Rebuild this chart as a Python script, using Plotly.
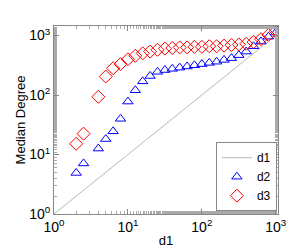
import plotly.graph_objects as go

# data
d1_line = [1, 1000]
k_d2 = [3, 4, 6, 7, 8, 9, 10, 11, 12, 13, 14, 15, 16, 17, 18, 19, 20, 21, 22, 23, 24, 25, 26, 27, 28, 29, 30]
d2_logy = [0.69, 0.85, 1.10, 1.26, 1.39, 1.60, 1.89, 2.08, 2.23, 2.32, 2.39, 2.42, 2.44, 2.46, 2.48, 2.50,
           2.52, 2.54, 2.56, 2.59, 2.62, 2.67, 2.73, 2.82, 2.90, 2.98, 3.05]
k_d3 = [3, 4, 6, 7, 8, 9, 10, 11, 12, 13, 14, 15, 16, 17, 18, 19, 20, 21, 22, 23, 24, 25, 26, 27, 28, 29, 30]
d3_logy = [1.18, 1.35, 1.97, 2.31, 2.45, 2.52, 2.60, 2.66, 2.70, 2.73, 2.76, 2.78, 2.79, 2.80, 2.80, 2.81,
           2.81, 2.82, 2.82, 2.83, 2.84, 2.85, 2.86, 2.89, 2.94, 3.01, 3.07]
tick_vals = [1, 10, 100, 1000]
tick_text = ["10<sup>0</sup>", "10<sup>1</sup>", "10<sup>2</sup>", "10<sup>3</sup>"]

x_d2 = [10 ** (k / 10) for k in k_d2]
y_d2 = [10 ** v for v in d2_logy]
x_d3 = [10 ** (k / 10) for k in k_d3]
y_d3 = [10 ** v for v in d3_logy]

fig = go.Figure()
fig.add_trace(go.Scatter(x=d1_line, y=d1_line, mode="lines", name="d1",
                         line=dict(color="#b8b8b8", width=1)))
fig.add_trace(go.Scatter(x=x_d2, y=y_d2, mode="markers", name="d2",
                         marker=dict(symbol="triangle-up-open", size=9, color="#0000ff",
                                     line=dict(width=1, color="#0000ff"))))
fig.add_trace(go.Scatter(x=x_d3, y=y_d3, mode="markers", name="d3",
                         marker=dict(symbol="diamond-open", size=10, color="#ff0000",
                                     line=dict(width=1, color="#ff0000"))))

axis_common = dict(type="log", showgrid=False, zeroline=False, showline=True, mirror="ticks",
                   linecolor="#888888", linewidth=1, ticks="inside", ticklen=5, tickcolor="#888888",
                   tickvals=tick_vals, ticktext=tick_text,
                   tickfont=dict(family="Liberation Sans, Arial", size=14, color="black"),
                   minor=dict(ticks="inside", ticklen=3, tickcolor="#aaaaaa", showgrid=False))

fig.update_layout(
    width=299, height=250,
    margin=dict(l=42, r=29, t=18, b=36),
    paper_bgcolor="white", plot_bgcolor="white",
    font=dict(family="Liberation Sans, Arial", size=12, color="black"),
    xaxis=dict(axis_common, range=[0, 3.03],
               title=dict(text="d1", standoff=2, font=dict(size=13))),
    yaxis=dict(axis_common, range=[0, 3.16],
               title=dict(text="Median Degree", standoff=0, font=dict(size=13))),
    showlegend=True,
    legend=dict(x=0.995, y=0.015, xanchor="right", yanchor="bottom", bgcolor="white",
                bordercolor="#888888", borderwidth=1, font=dict(size=12),
                tracegroupgap=0, itemwidth=30),
)

fig.write_html("out.html")
